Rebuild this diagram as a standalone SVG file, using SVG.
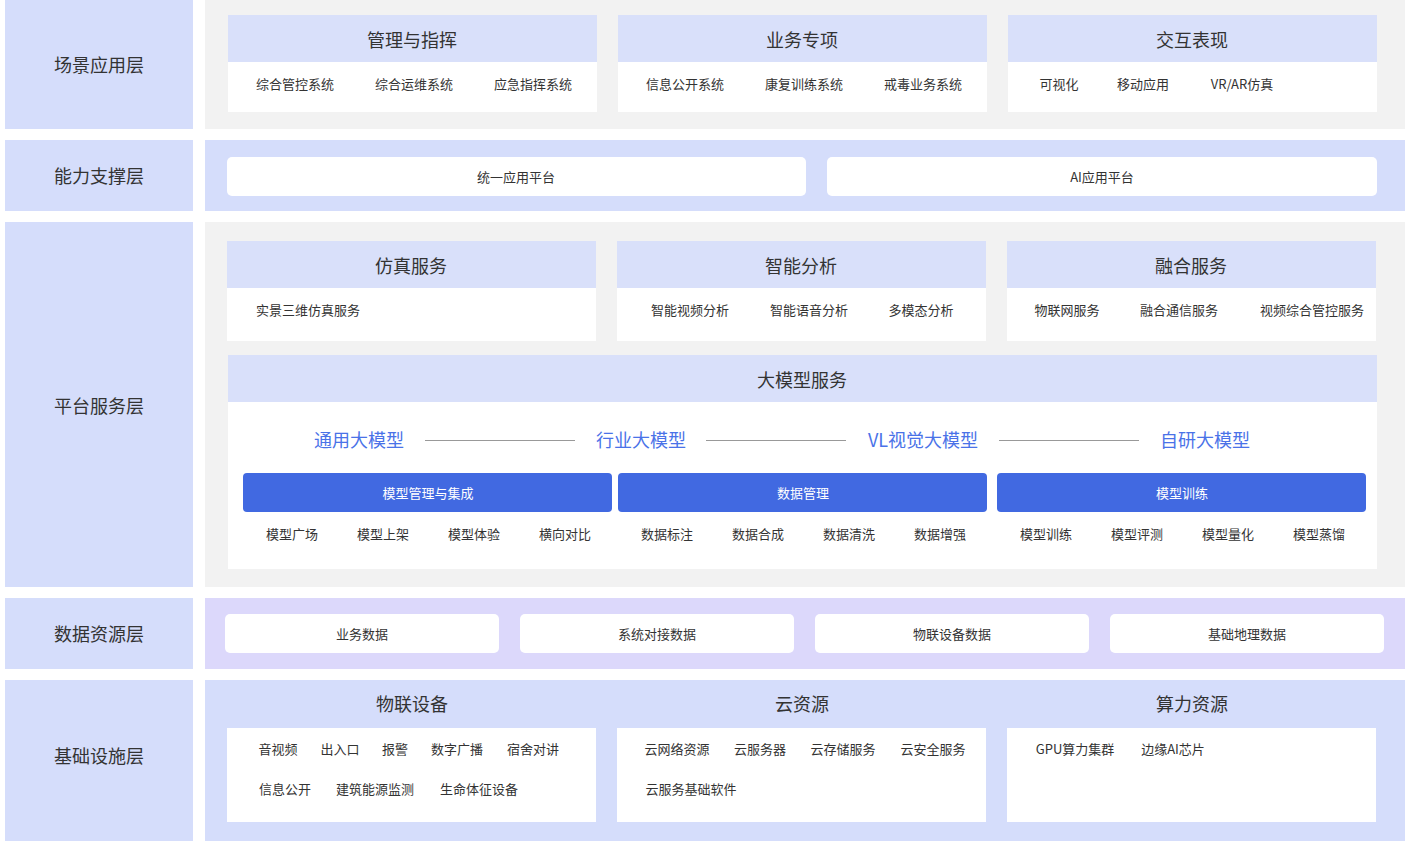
<svg xmlns="http://www.w3.org/2000/svg" width="1411" height="847" viewBox="0 0 1411 847">
<style>
text{font-family:"Noto Sans CJK SC","Liberation Sans",sans-serif;fill:#333}
.lay{fill:#d5ddfb}.gray{fill:#f2f2f2}.hd{fill:#d9e0fa}.w{fill:#fff}
.L{font-size:18px;text-anchor:middle}.H{font-size:18px;text-anchor:middle}
.s{font-size:13px;text-anchor:middle}.b{fill:#4169e1}.bt{font-size:13px;text-anchor:middle;fill:#fff}
.m{font-size:18px;text-anchor:middle;fill:#4a72e8}
.ln{stroke:#999;stroke-width:1}
</style>
<rect width="1411" height="847" fill="#fff"/>
<g id="layer-scene">
<rect class="lay" x="5" y="0" width="188" height="129"/><text class="L" x="99" y="72">场景应用层</text>
<rect class="gray" x="205" y="0" width="1200" height="129"/>
</g>
<g id="card-mgmt"><rect class="w" x="228" y="15" width="369" height="97"/><rect class="hd" x="228" y="15" width="369" height="47"/>
<text class="H" x="412" y="47">管理与指挥</text><text class="s" x="295" y="89">综合管控系统</text><text class="s" x="414" y="89">综合运维系统</text><text class="s" x="533" y="89">应急指挥系统</text></g>
<g id="card-biz"><rect class="w" x="618" y="15" width="369" height="97"/><rect class="hd" x="618" y="15" width="369" height="47"/>
<text class="H" x="802" y="47">业务专项</text><text class="s" x="685" y="89">信息公开系统</text><text class="s" x="804" y="89">康复训练系统</text><text class="s" x="923" y="89">戒毒业务系统</text></g>
<g id="card-inter"><rect class="w" x="1008" y="15" width="369" height="97"/><rect class="hd" x="1008" y="15" width="369" height="47"/>
<text class="H" x="1192" y="47">交互表现</text><text class="s" x="1059" y="89">可视化</text><text class="s" x="1143" y="89">移动应用</text><text class="s" x="1242" y="89">VR/AR仿真</text></g>

<g id="layer-ability">
<rect class="lay" x="5" y="140" width="188" height="71"/><text class="L" x="99" y="183">能力支撑层</text>
<rect class="lay" x="205" y="140" width="1200" height="71"/>
<rect class="w" x="227" y="157" width="579" height="39" rx="5"/><text class="s" x="516" y="182">统一应用平台</text>
<rect class="w" x="827" y="157" width="550" height="39" rx="5"/><text class="s" x="1102" y="182">AI应用平台</text>
</g>

<g id="layer-platform">
<rect class="lay" x="5" y="222" width="188" height="365"/><text class="L" x="99" y="413">平台服务层</text>
<rect class="gray" x="205" y="222" width="1200" height="365"/>
</g>
<g id="card-sim"><rect class="w" x="227" y="241" width="369" height="100"/><rect class="hd" x="227" y="241" width="369" height="47"/>
<text class="H" x="411" y="273">仿真服务</text><text class="s" x="308" y="315">实景三维仿真服务</text></g>
<g id="card-ai"><rect class="w" x="617" y="241" width="369" height="100"/><rect class="hd" x="617" y="241" width="369" height="47"/>
<text class="H" x="801" y="273">智能分析</text><text class="s" x="690" y="315">智能视频分析</text><text class="s" x="809" y="315">智能语音分析</text><text class="s" x="921" y="315">多模态分析</text></g>
<g id="card-fuse"><rect class="w" x="1007" y="241" width="369" height="100"/><rect class="hd" x="1007" y="241" width="369" height="47"/>
<text class="H" x="1191" y="273">融合服务</text><text class="s" x="1067" y="315">物联网服务</text><text class="s" x="1179" y="315">融合通信服务</text><text class="s" x="1312" y="315">视频综合管控服务</text></g>
<g id="card-llm"><rect class="w" x="228" y="355" width="1149" height="214"/><rect class="hd" x="228" y="355" width="1149" height="47"/>
<text class="H" x="802" y="387">大模型服务</text>
<text class="m" x="359" y="447">通用大模型</text><text class="m" x="641" y="447">行业大模型</text><text class="m" x="923" y="447">VL视觉大模型</text><text class="m" x="1205" y="447">自研大模型</text>
<rect class="b" x="243" y="473" width="369" height="39" rx="4"/><text class="bt" x="428" y="498">模型管理与集成</text>
<rect class="b" x="618" y="473" width="369" height="39" rx="4"/><text class="bt" x="803" y="498">数据管理</text>
<rect class="b" x="997" y="473" width="369" height="39" rx="4"/><text class="bt" x="1182" y="498">模型训练</text>
<text class="s" x="292" y="539">模型广场</text><text class="s" x="383" y="539">模型上架</text><text class="s" x="474" y="539">模型体验</text><text class="s" x="565" y="539">横向对比</text>
<text class="s" x="667" y="539">数据标注</text><text class="s" x="758" y="539">数据合成</text><text class="s" x="849" y="539">数据清洗</text><text class="s" x="940" y="539">数据增强</text>
<text class="s" x="1046" y="539">模型训练</text><text class="s" x="1137" y="539">模型评测</text><text class="s" x="1228" y="539">模型量化</text><text class="s" x="1319" y="539">模型蒸馏</text>
</g>
<g id="connectors">
<line class="ln" x1="425" y1="440.5" x2="575" y2="440.5"/>
<line class="ln" x1="706" y1="440.5" x2="846" y2="440.5"/>
<line class="ln" x1="999" y1="440.5" x2="1139" y2="440.5"/>
</g>

<g id="layer-data">
<rect class="lay" x="5" y="598" width="188" height="71"/><text class="L" x="99" y="641">数据资源层</text>
<rect fill="#dcd8fb" x="205" y="598" width="1200" height="71"/>
<rect class="w" x="225" y="614" width="274" height="39" rx="5"/><text class="s" x="362" y="639">业务数据</text>
<rect class="w" x="520" y="614" width="274" height="39" rx="5"/><text class="s" x="657" y="639">系统对接数据</text>
<rect class="w" x="815" y="614" width="274" height="39" rx="5"/><text class="s" x="952" y="639">物联设备数据</text>
<rect class="w" x="1110" y="614" width="274" height="39" rx="5"/><text class="s" x="1247" y="639">基础地理数据</text>
</g>

<g id="layer-infra">
<rect class="lay" x="5" y="680" width="188" height="161"/><text class="L" x="99" y="763">基础设施层</text>
<rect class="lay" x="205" y="680" width="1200" height="161"/>
</g>
<g id="card-iot"><text class="H" x="412" y="711">物联设备</text><rect class="w" x="227" y="728" width="369" height="94"/>
<text class="s" x="278" y="754">音视频</text><text class="s" x="340" y="754">出入口</text><text class="s" x="395" y="754">报警</text><text class="s" x="457" y="754">数字广播</text><text class="s" x="533" y="754">宿舍对讲</text>
<text class="s" x="285" y="794">信息公开</text><text class="s" x="375" y="794">建筑能源监测</text><text class="s" x="479" y="794">生命体征设备</text></g>
<g id="card-cloud"><text class="H" x="802" y="711">云资源</text><rect class="w" x="617" y="728" width="369" height="94"/>
<text class="s" x="677" y="754">云网络资源</text><text class="s" x="760" y="754">云服务器</text><text class="s" x="843" y="754">云存储服务</text><text class="s" x="933" y="754">云安全服务</text>
<text class="s" x="691" y="794">云服务基础软件</text></g>
<g id="card-compute"><text class="H" x="1192" y="711">算力资源</text><rect class="w" x="1007" y="728" width="369" height="94"/>
<text class="s" x="1075" y="754">GPU算力集群</text><text class="s" x="1173" y="754">边缘AI芯片</text></g>
</svg>
